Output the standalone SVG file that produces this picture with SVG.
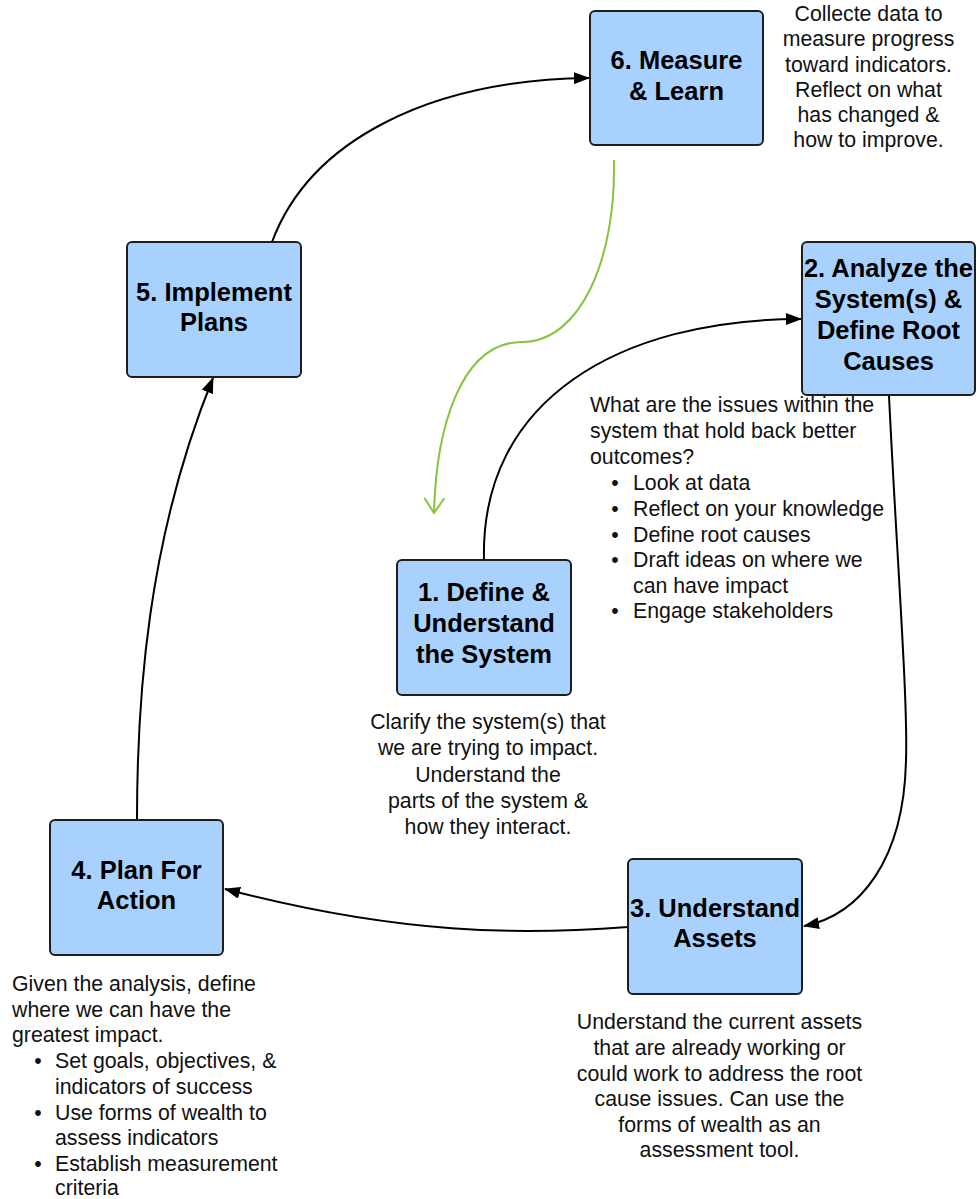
<svg xmlns="http://www.w3.org/2000/svg" width="980" height="1199" viewBox="0 0 980 1199">
<style>
.box{fill:#a8d2fd;stroke:#1e1e1e;stroke-width:2}
.t{font-family:"Liberation Sans",Arial,sans-serif;font-weight:bold;font-size:25.5px;fill:#000;text-anchor:middle}
.d{font-family:"Liberation Sans",Arial,sans-serif;font-size:21.3px;fill:#111}
.c{text-anchor:middle}
.b{text-anchor:middle}
.conn{fill:none;stroke:#000;stroke-width:2}
.green{fill:none;stroke:#86c440;stroke-width:2}
</style>
<defs>
<marker id="arr" markerWidth="16" markerHeight="12" refX="15" refY="6" orient="auto" markerUnits="userSpaceOnUse">
<path d="M0,0 L16,6 L0,12 z" fill="#000"/>
</marker>
<marker id="varr" markerWidth="24" markerHeight="22" refX="17" refY="11" orient="auto" markerUnits="userSpaceOnUse">
<path d="M2,1 L17,11 L2,21" fill="none" stroke="#86c440" stroke-width="2"/>
</marker>
</defs>
<g id="connectors">
<path class="conn" d="M272,242 C310,140 430,80 589,78" marker-end="url(#arr)"/>
<path class="conn" d="M484,560 C480,400 620,319 801,319" marker-end="url(#arr)"/>
<path class="conn" d="M889,396 C897,560 908,700 906,760 C904,860 860,915 804,926" marker-end="url(#arr)"/>
<path class="conn" d="M628,927 C520,935 400,935 225,889" marker-end="url(#arr)"/>
<path class="conn" d="M137,820 C137,700 147,540 213,378" marker-end="url(#arr)"/>
<path class="green" d="M614,160 C616,260 580,342 522,342 C460,342 436,430 434,513" marker-end="url(#varr)"/>
</g>
<g id="node6">
<rect class="box" x="590" y="11" width="173" height="134" rx="5"/>
<text class="t" x="676.5" y="68.5">6. Measure</text>
<text class="t" x="676.5" y="99.5">&amp; Learn</text>
<text class="d c" x="868.5"><tspan x="868.5" y="21">Collecte data to</tspan><tspan x="868.5" y="46">measure progress</tspan><tspan x="868.5" y="71.5">toward indicators.</tspan><tspan x="868.5" y="96.5">Reflect on what</tspan><tspan x="868.5" y="122">has changed &amp;</tspan><tspan x="868.5" y="147">how to improve.</tspan></text>
</g>
<g id="node5">
<rect class="box" x="127" y="242" width="174" height="135" rx="5"/>
<text class="t" x="214" y="300.5">5. Implement</text>
<text class="t" x="214" y="331">Plans</text>
</g>
<g id="node2">
<rect class="box" x="802" y="242" width="173" height="153" rx="5"/>
<text class="t" x="888.5" y="277">2. Analyze the</text>
<text class="t" x="888.5" y="308">System(s) &amp;</text>
<text class="t" x="888.5" y="339">Define Root</text>
<text class="t" x="888.5" y="369.5">Causes</text>
<text class="d"><tspan x="590" y="412">What are the issues within the</tspan><tspan x="590" y="438">system that hold back better</tspan><tspan x="590" y="464">outcomes?</tspan></text>
<text class="d b"><tspan x="615" y="490">•</tspan><tspan x="615" y="515.5">•</tspan><tspan x="615" y="541.5">•</tspan><tspan x="615" y="567">•</tspan><tspan x="615" y="618">•</tspan></text>
<text class="d"><tspan x="633" y="490">Look at data</tspan><tspan x="633" y="515.5">Reflect on your knowledge</tspan><tspan x="633" y="541.5">Define root causes</tspan><tspan x="633" y="567">Draft ideas on where we</tspan><tspan x="633" y="592.5">can have impact</tspan><tspan x="633" y="618">Engage stakeholders</tspan></text>
</g>
<g id="node1">
<rect class="box" x="397" y="560" width="174" height="135" rx="5"/>
<text class="t" x="484" y="601">1. Define &amp;</text>
<text class="t" x="484" y="632">Understand</text>
<text class="t" x="484" y="663">the System</text>
<text class="d c"><tspan x="488" y="729">Clarify the system(s) that</tspan><tspan x="488" y="755">we are trying to impact.</tspan><tspan x="488" y="782">Understand the</tspan><tspan x="488" y="808">parts of the system &amp;</tspan><tspan x="488" y="834">how they interact.</tspan></text>
</g>
<g id="node4">
<rect class="box" x="50" y="820" width="173" height="135" rx="5"/>
<text class="t" x="136.5" y="878.5">4. Plan For</text>
<text class="t" x="136.5" y="909">Action</text>
<text class="d"><tspan x="12" y="991">Given the analysis, define</tspan><tspan x="12" y="1016.5">where we can have the</tspan><tspan x="12" y="1042">greatest impact.</tspan></text>
<text class="d b"><tspan x="38" y="1068">•</tspan><tspan x="38" y="1119.5">•</tspan><tspan x="38" y="1170.5">•</tspan></text>
<text class="d"><tspan x="55" y="1068">Set goals, objectives, &amp;</tspan><tspan x="55" y="1093.5">indicators of success</tspan><tspan x="55" y="1119.5">Use forms of wealth to</tspan><tspan x="55" y="1145">assess indicators</tspan><tspan x="55" y="1170.5">Establish measurement</tspan><tspan x="55" y="1195">criteria</tspan></text>
</g>
<g id="node3">
<rect class="box" x="628" y="859" width="174" height="135" rx="5"/>
<text class="t" x="715" y="916.5">3. Understand</text>
<text class="t" x="715" y="947">Assets</text>
<text class="d c"><tspan x="719.5" y="1029">Understand the current assets</tspan><tspan x="719.5" y="1054.5">that are already working or</tspan><tspan x="719.5" y="1080.5">could work to address the root</tspan><tspan x="719.5" y="1106">cause issues. Can use the</tspan><tspan x="719.5" y="1132">forms of wealth as an</tspan><tspan x="719.5" y="1157">assessment tool.</tspan></text>
</g>
</svg>
